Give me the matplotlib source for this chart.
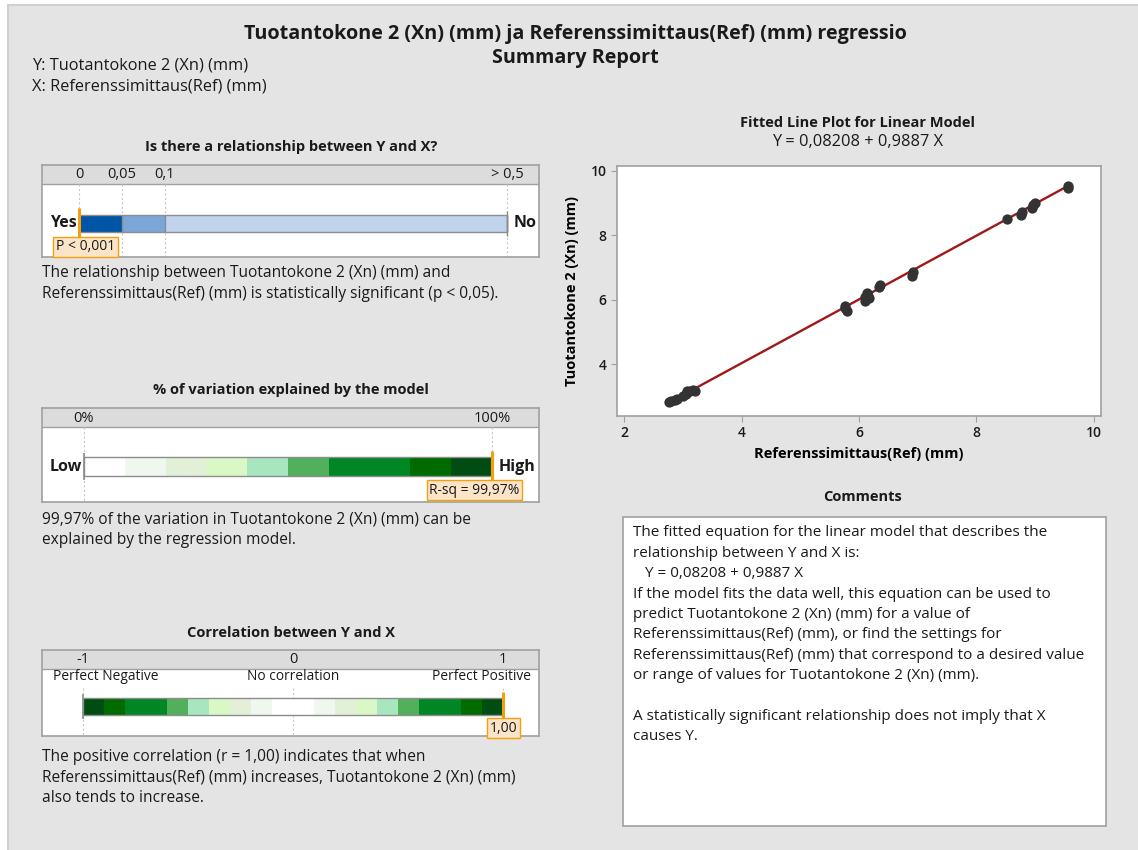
import numpy as np
import matplotlib
matplotlib.use("Agg")
import matplotlib.pyplot as plt
from matplotlib.patches import Rectangle

plt.rcParams['font.family'] = ['Open Sans', 'DejaVu Sans']

W, H = 1138, 850

ref_x = [2.77, 2.80, 2.87, 2.90, 3.01, 3.05, 3.08, 3.13, 3.18, 3.20,
         5.76, 5.77, 5.80, 6.10, 6.11, 6.13, 6.15, 6.17, 6.34, 6.35,
         6.91, 6.92, 8.52, 8.76, 8.77, 8.94, 8.97, 9.00, 9.55, 9.56]
xn_y = [2.82, 2.85, 2.90, 2.93, 3.03, 3.08, 3.17, 3.18, 3.20, 3.19,
        5.80, 5.75, 5.66, 5.98, 6.10, 6.21, 6.12, 6.05, 6.40, 6.45,
        6.75, 6.85, 8.51, 8.64, 8.72, 8.86, 8.93, 9.00, 9.47, 9.52]
intercept = 0.08208
slope = 0.9887

p_ticks = [0, 0.05, 0.1, 0.5]
p_tick_labels = ['0', '0,05', '0,1', '> 0,5']
p_bands = [(0, 0.05), (0.05, 0.1), (0.1, 0.5)]
p_colors = ['#0054A5', '#7BA7D8', '#C0D4EE']
p_marker = 0.0
p_label = 'P < 0,001'

rsq_ticks = [0, 100]
rsq_tick_labels = ['0%', '100%']
rsq_edges = [0, 10, 20, 30, 40, 50, 60, 70, 80, 90, 100]
rsq_colors = ['#FFFFFF', '#EFF7EF', '#E3F0D8', '#DAF7C6', '#A8E6BF',
              '#52B05C', '#008624', '#008624', '#006B00', '#004D13']
rsq_value = 99.97
rsq_label = 'R-sq = 99,97%'

r_ticks = [-1, 0, 1]
r_tick_labels = ['-1', '0', '1']
r_edges = [-1.0, -0.9, -0.8, -0.7, -0.6, -0.5, -0.4, -0.3, -0.2, -0.1, 0.0,
           0.1, 0.2, 0.3, 0.4, 0.5, 0.6, 0.7, 0.8, 0.9, 1.0]
r_colors = ['#004D13', '#006B00', '#008624', '#008624', '#52B05C',
            '#A8E6BF', '#DAF7C6', '#E3F0D8', '#EFF7EF', '#FFFFFF',
            '#FFFFFF', '#EFF7EF', '#E3F0D8', '#DAF7C6', '#A8E6BF',
            '#52B05C', '#008624', '#008624', '#006B00', '#004D13']
r_value = 1.00
r_label = '1,00'

ORANGE = '#F5A00A'
LABEL_FC = '#FCE4C8'
EDGE = '#A0A0A0'
HEAD = '#DCDCDC'
BODY = 11.2
HEADING = 10.5

fig = plt.figure(figsize=(W / 100, H / 100), dpi=100)
fig.patch.set_facecolor('white')

# background layer
axb = fig.add_axes([0, 0, 1, 1], zorder=0)
axb.set_xlim(0, W)
axb.set_ylim(H, 0)
axb.axis('off')
axb.add_patch(Rectangle((8, 5), W, H, fc='#E4E4E4', ec='#D0D0D0', lw=1.5))
axb.add_patch(Rectangle((623, 517), 483, 309, fc='white', ec=EDGE, lw=1.2))

# text layer on top of everything
axt = fig.add_axes([0, 0, 1, 1], zorder=10)
axt.set_xlim(0, W)
axt.set_ylim(H, 0)
axt.axis('off')


def txt(x, y, s, **kw):
    kw.setdefault('fontsize', BODY)
    kw.setdefault('va', 'center')
    kw.setdefault('color', '#1A1A1A')
    axt.text(x, y, s, **kw)


def tag(x, y, s):
    txt(x, y, s, ha='center', fontsize=10,
        bbox=dict(boxstyle='square,pad=0.18', fc=LABEL_FC, ec=ORANGE, lw=1))


txt(575, 34, 'Tuotantokone 2 (Xn) (mm) ja Referenssimittaus(Ref) (mm) regressio',
    ha='center', fontsize=14.2, weight='bold')
txt(575, 58, 'Summary Report', ha='center', fontsize=14.2, weight='bold')
txt(32, 65, 'Y: Tuotantokone 2 (Xn) (mm)', fontsize=11.8)
txt(32, 86, 'X: Referenssimittaus(Ref) (mm)', fontsize=11.8)


def panel(top, head, bottom, xlim, scale=None):
    left, right = 42, 539
    ax = fig.add_axes([left / W, 1 - bottom / H, (right - left) / W, (bottom - top) / H], zorder=2)
    if scale is not None:
        ax.set_xscale('function', functions=scale)
    ax.set_xlim(xlim)
    ax.set_ylim(bottom, top)
    ax.set_facecolor('white')
    ax.set_xticks([])
    ax.set_yticks([])
    ax.minorticks_off()
    for s in ax.spines.values():
        s.set_color(EDGE)
        s.set_linewidth(1.2)
    ax.axhspan(top, head, color=HEAD, lw=0)
    ax.axhline(head, color=EDGE, lw=1)
    return ax


def bar(ax, edges, colors, y0, y1):
    lefts = edges[:-1]
    widths = np.diff(edges)
    ax.barh((y0 + y1) / 2, widths, left=lefts, height=y1 - y0, color=colors,
            edgecolor='none', zorder=3)
    ax.barh((y0 + y1) / 2, edges[-1] - edges[0], left=edges[0], height=y1 - y0,
            fill=False, edgecolor='#8C8C8C', lw=1, zorder=4)


def header_ticks(ax, ticks, labels, y):
    for v, lab in zip(ticks, labels):
        ax.text(v, y, lab, ha='center', va='center', fontsize=10.5, color='#1A1A1A')


# ---- panel 1: p-value ----
_pv = [-1, 0, 0.05, 0.1, 0.5, 2]
_pu = [-860, 0, 43, 86, 428, 1710.5]
p_scale = (lambda v: np.interp(v, _pv, _pu), lambda u: np.interp(u, _pu, _pv))
txt(291, 147, 'Is there a relationship between Y and X?', ha='center', weight='bold', fontsize=HEADING)
ax1 = panel(165, 184, 257, (-0.043, 0.5374), p_scale)
ax1.vlines(p_ticks, 184, 257, color='#C8C8C8', lw=0.8, ls=(0, (2, 2)), zorder=2)
header_ticks(ax1, p_ticks, p_tick_labels, 175)
bar(ax1, [b[0] for b in p_bands] + [p_bands[-1][1]], p_colors, 215, 232)
ax1.vlines(p_ticks[1:], 215, 232, color='#8C8C8C', lw=1, zorder=4)
ax1.vlines([p_ticks[-1]], 211, 236, color='#8C8C8C', lw=1, zorder=4)
ax1.vlines([p_marker], 208, 239, color=ORANGE, lw=2.2, zorder=5)
txt(50, 223, 'Yes', weight='bold', fontsize=11.5)
txt(514, 223, 'No', weight='bold', fontsize=11.5)
tag(85.5, 246.5, p_label)
txt(42, 273, 'The relationship between Tuotantokone 2 (Xn) (mm) and')
txt(42, 294, 'Referenssimittaus(Ref) (mm) is statistically significant (p < 0,05).')

# ---- panel 2: R-sq ----
txt(291, 390, '% of variation explained by the model', ha='center', weight='bold', fontsize=HEADING)
ax2 = panel(408, 427, 502, (-10.29, 111.52))
ax2.vlines(rsq_ticks, 427, 502, color='#C8C8C8', lw=0.8, ls=(0, (2, 2)), zorder=2)
header_ticks(ax2, rsq_ticks, rsq_tick_labels, 418)
bar(ax2, rsq_edges, rsq_colors, 457, 476)
ax2.vlines([rsq_edges[0]], 453, 480, color='#8C8C8C', lw=1.2, zorder=4)
ax2.vlines([rsq_value], 451, 482, color=ORANGE, lw=2.2, zorder=5)
txt(50, 467, 'Low', weight='bold', fontsize=11.5)
txt(499, 467, 'High', weight='bold', fontsize=11.5)
tag(474.5, 490, rsq_label)
txt(42, 520, '99,97% of the variation in Tuotantokone 2 (Xn) (mm) can be')
txt(42, 540, 'explained by the regression model.')

# ---- panel 3: correlation ----
txt(291, 633, 'Correlation between Y and X', ha='center', weight='bold', fontsize=HEADING)
ax3 = panel(650, 669, 736, (-1.195, 1.171))
ax3.vlines(r_ticks, 688, 736, color='#C8C8C8', lw=0.8, ls=(0, (2, 2)), zorder=2)
header_ticks(ax3, r_ticks, r_tick_labels, 660)
bar(ax3, r_edges, r_colors, 698, 715)
ax3.vlines([r_edges[0]], 694, 719, color='#8C8C8C', lw=1.2, zorder=4)
ax3.vlines([r_value], 692, 721, color=ORANGE, lw=2.2, zorder=5)
txt(53, 677, 'Perfect Negative', fontsize=9.9)
txt(293, 677, 'No correlation', ha='center', fontsize=9.9)
txt(531, 677, 'Perfect Positive', ha='right', fontsize=9.9)
tag(503.5, 728, r_label)
txt(42, 757, 'The positive correlation (r = 1,00) indicates that when')
txt(42, 777, 'Referenssimittaus(Ref) (mm) increases, Tuotantokone 2 (Xn) (mm)')
txt(42, 798, 'also tends to increase.')

# ---- fitted line plot ----
txt(858, 123, 'Fitted Line Plot for Linear Model', ha='center', weight='bold', fontsize=HEADING)
txt(858, 142, 'Y = 0,08208 + 0,9887 X', ha='center', fontsize=11.8)
ax = fig.add_axes([617 / W, 1 - 416 / H, 484 / W, 250 / H], zorder=2)
ax.set_facecolor('white')
xs = np.array([min(ref_x), max(ref_x)])
ax.plot(xs, intercept + slope * xs, color='#A01818', lw=1.7, zorder=2)
ax.scatter(ref_x, xn_y, s=55, color='#333333', zorder=3, lw=0)
ax.set_xlim(1.88, 10.12)
ax.set_ylim(2.40, 10.15)
ax.set_xticks([2, 4, 6, 8, 10])
ax.set_yticks([4, 6, 8, 10])
for s in ax.spines.values():
    s.set_color(EDGE)
    s.set_linewidth(1.2)
ax.tick_params(direction='out', length=4, color=EDGE, labelsize=10, labelcolor='#1A1A1A')
for lab in ax.get_xticklabels() + ax.get_yticklabels():
    lab.set_fontweight('semibold')
ax.set_xlabel('Referenssimittaus(Ref) (mm)', fontsize=HEADING, weight='bold', labelpad=5)
ax.set_ylabel('Tuotantokone 2 (Xn) (mm)', fontsize=HEADING, weight='bold', labelpad=8)

# ---- comments ----
txt(863, 497, 'Comments', ha='center', weight='bold', fontsize=HEADING)
comment_lines = [
    'The fitted equation for the linear model that describes the',
    'relationship between Y and X is:',
    '   Y = 0,08208 + 0,9887 X',
    'If the model fits the data well, this equation can be used to',
    'predict Tuotantokone 2 (Xn) (mm) for a value of',
    'Referenssimittaus(Ref) (mm), or find the settings for',
    'Referenssimittaus(Ref) (mm) that correspond to a desired value',
    'or range of values for Tuotantokone 2 (Xn) (mm).',
    '',
    'A statistically significant relationship does not imply that X',
    'causes Y.',
]
for i, line in enumerate(comment_lines):
    txt(633, 533 + i * 20.4, line, fontsize=11)

fig.savefig('out.png', dpi=100, facecolor=fig.get_facecolor())
